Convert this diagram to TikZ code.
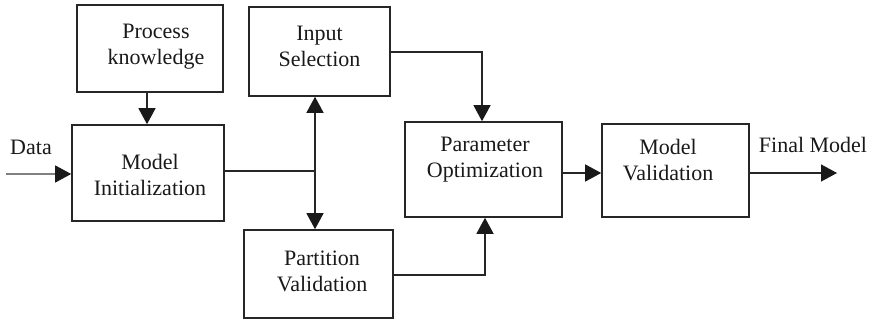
\documentclass[tikz,border=0pt]{standalone}
\usepackage{fontspec}
\setmainfont{Liberation Serif}
\usetikzlibrary{arrows.meta,calc}
\begin{document}
\begin{tikzpicture}[x=1pt,y=1pt,
  blockbox/.style={draw=black!85,line width=1.6pt,inner sep=0pt},
  txt/.style={align=center,font=\fontsize{22}{26}\selectfont,inner sep=0pt,text=black!90},
  conn/.style={draw=black!85,line width=1.3pt},
  arr/.style={conn,-{Triangle[length=16pt,width=17pt,color=black!90]}}]
\useasboundingbox (0,0) rectangle (872,320);

% blocks
\node[blockbox,minimum width=146pt,minimum height=87pt] (pk) at (150,271.5) {};
\node[blockbox,minimum width=141pt,minimum height=89pt] (is) at (319.5,268.5) {};
\node[blockbox,minimum width=152pt,minimum height=96pt] (mi) at (148,147) {};
\node[blockbox,minimum width=149pt,minimum height=88pt] (pv) at (318.5,46) {};
\node[blockbox,minimum width=157pt,minimum height=95pt] (po) at (483.5,150.5) {};
\node[blockbox,minimum width=147pt,minimum height=93pt] (mv) at (675.5,149.5) {};

% block texts
\node[txt] (tpk) at ($(pk.center)+(6,2)$) {Process\\knowledge};
\node[txt] (tis) at ($(is.center)+(0,5.5)$) {Input\\Selection};
\node[txt] (tmi) at ($(mi.center)+(2,-2)$) {Model\\Initialization};
\node[txt] (tpv) at ($(pv.center)+(3.5,3)$) {Partition\\Validation};
\node[txt] (tpo) at ($(po.center)+(1.5,9.5)$) {Parameter\\Optimization};
\node[txt] (tmv) at ($(mv.center)+(-7.5,10.5)$) {Model\\Validation};

% free labels
\node[txt] (ldata) at (31,173) {Data};
\node[txt] (lfinal) at (813,175) {Final Model};

% connectors
\coordinate (dataIn) at (6,146);
\draw[arr,draw=black!50,line width=1.1pt] (dataIn) -- (mi.west |- dataIn);
\draw[arr] ([xshift=-3pt]pk.south) -- ([xshift=-1pt]mi.north);
\coordinate (J) at (315,149);
\draw[conn] (mi.east |- J) -- (J);
\draw[arr] (J) -- (J |- is.south);
\draw[arr] (J) -- (J |- pv.north);
\draw[arr] ([yshift=-0.5pt]is.east) -| ([xshift=-1.5pt]po.north);
\draw[arr] ([yshift=-1pt]pv.east) -| ([xshift=1.5pt]po.south);
\coordinate (pomv) at ($(po.east)+(0,-3.5)$);
\draw[arr] (pomv) -- (mv.west |- pomv);
\coordinate (fin) at (837,147);
\draw[arr] (mv.east |- fin) -- (fin);
\end{tikzpicture}
\end{document}
